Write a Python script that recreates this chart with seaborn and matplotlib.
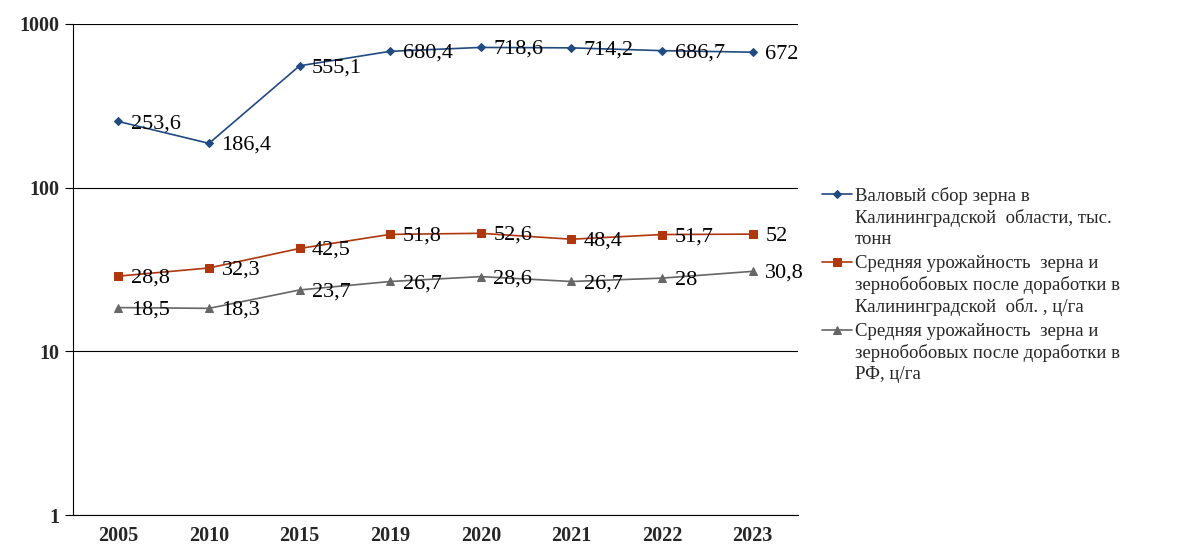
import pandas as pd
import matplotlib
matplotlib.use("Agg")
import matplotlib.pyplot as plt
import seaborn as sns

years = ["2005", "2010", "2015", "2019", "2020", "2021", "2022", "2023"]
harvest = [253.6, 186.4, 555.1, 680.4, 718.6, 714.2, 686.7, 672]
yield_kal = [28.8, 32.3, 42.5, 51.8, 52.6, 48.4, 51.7, 52]
yield_rf = [18.5, 18.3, 23.7, 26.7, 28.6, 26.7, 28, 30.8]
labels = [
    "Валовый сбор зерна в\nКалининградской  области, тыс.\nтонн",
    "Средняя урожайность  зерна и\nзернобобовых после доработки в\nКалининградской  обл. , ц/га",
    "Средняя урожайность  зерна и\nзернобобовых после доработки в\nРФ, ц/га",
]

sns.set_theme(style="white")
plt.rcParams["font.family"] = ["Liberation Serif", "DejaVu Serif"]

series = [harvest, yield_kal, yield_rf]
colors = ["#1f4a82", "#b0360c", "#666666"]
markers = ["D", "s", "^"]
msizes = [4, 5.5, 5.5]

df = pd.concat(
    [pd.DataFrame({"year": years, "value": s, "series": lab}) for s, lab in zip(series, labels)],
    ignore_index=True,
)

fig = plt.figure(figsize=(11.84, 5.44), dpi=100)
ax = fig.add_axes([0.0617, 0.0533, 0.6123, 0.9027])

for s, lab, c, m, ms in zip(series, labels, colors, markers, msizes):
    sub = df[df.series == lab]
    sns.lineplot(data=sub, x="year", y="value", color=c, marker=m, markersize=ms,
                 markeredgecolor=c, linewidth=1.2, label=lab, ax=ax)
    for i, v in enumerate(s):
        txt = f"{v:g}".replace(".", ",")
        ax.annotate(txt, (i, v), xytext=(9, -1.5), textcoords="offset points",
                    ha="left", va="center", fontsize=16, color="black")

ax.set_yscale("log")
ax.set_ylim(1, 1000)
ax.set_xlim(-0.5, len(years) - 0.5)
ax.set_yticks([1, 10, 100, 1000])
ax.set_yticklabels(["1", "10", "100", "1000"])
ax.minorticks_off()
ax.yaxis.grid(True, color="black", linewidth=0.8)
ax.set_xlabel("")
ax.set_ylabel("")

ax.set_xticks([i - 0.5 for i in range(len(years) + 1)], minor=True)
ax.set_xticks(range(len(years)))
ax.set_xticklabels(years)
ax.tick_params(axis="x", which="major", length=0, pad=8, labelsize=14.5)
ax.tick_params(axis="x", which="minor", length=6, color="black", width=0.8, direction="out")
ax.tick_params(axis="y", length=6, color="black", width=0.8, direction="out", labelsize=14.5, left=True)
for t in ax.get_xticklabels() + ax.get_yticklabels():
    t.set_fontweight("bold")

for side in ["top", "right"]:
    ax.spines[side].set_visible(False)
ax.spines["left"].set_color("black")
ax.spines["left"].set_linewidth(0.8)
ax.spines["bottom"].set_color("black")
ax.spines["bottom"].set_linewidth(0.8)

leg = ax.legend(loc="upper left", bbox_to_anchor=(1.033, 0.667), frameon=False,
                fontsize=13.5, handlelength=1.6, handletextpad=0.15, labelspacing=0.4,
                borderaxespad=0, borderpad=0)
for t in leg.get_texts():
    t.set_linespacing(1.27)
# put each handle next to the first line of its label
for col in leg._legend_handle_box.get_children():
    for row in col.get_children():
        row.align = "top"

fig.savefig("out.png", dpi=100)
